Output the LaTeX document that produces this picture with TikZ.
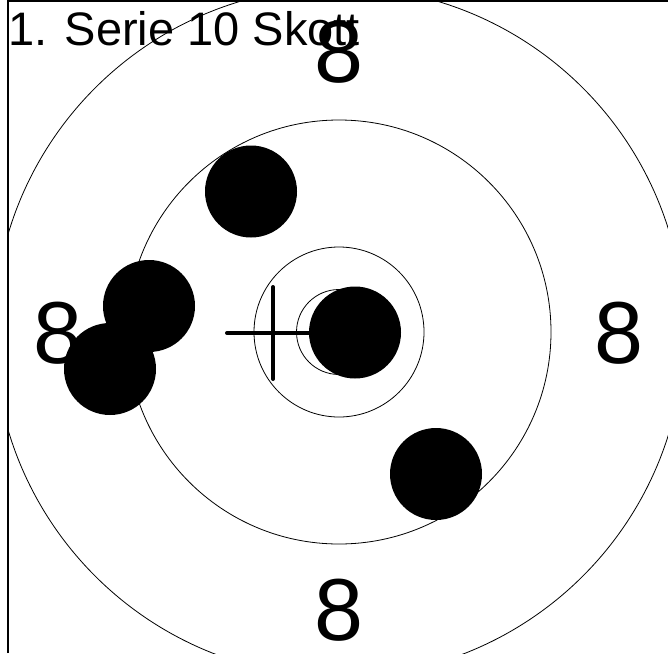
\documentclass[tikz,border=0pt]{standalone}
\usepackage{fontspec}
\setmainfont{Liberation Sans}
\begin{document}
\begin{tikzpicture}[x=1pt,y=-1pt,
 ring/.style={draw=black,line width=0.8pt},
 shot/.style={circle,fill=black,inner sep=0pt,minimum size=92pt},
 ringnum/.style={inner sep=0pt,font=\fontsize{88}{88}\selectfont},
 cross/.style={line width=4pt,line cap=round}]
 \useasboundingbox (0,0) rectangle (668,653);
 \begin{scope}
  \clip (7,1) rectangle (668,653);
  \coordinate (mid) at (339,332);
  \foreach \r in {42.5,85,212,345}
   \draw[ring] (mid) circle[radius=\r pt];
  % ring numbers
  \node[ringnum] (numtop) at (339,52) {8};
  \node[ringnum] (numbot) at (339,610) {8};
  \node[ringnum] (numleft) at (58,333) {8};
  \node[ringnum] (numright) at (619,333) {8};
  \node[anchor=base west,inner sep=0pt,font=\fontsize{47}{47}\selectfont] (title) at (8,45) {1. Serie 10 Skott};
  % mean point of impact
  \coordinate (mpi) at (273,333);
  \draw[cross] ([xshift=-46pt]mpi) -- ([xshift=46pt]mpi);
  \draw[cross] ([yshift=-46pt]mpi) -- ([yshift=46pt]mpi);
  % hits
  \node[shot] (hit1) at (251,191.5) {};
  \node[shot] (hit2) at (149,306) {};
  \node[shot] (hit3) at (110,369) {};
  \node[shot] (hit4) at (355,332.5) {};
  \node[shot] (hit5) at (436,474) {};
 \end{scope}
 \draw[line width=2pt] (7.5,653) -- (7.5,1) -- (668,1);
\end{tikzpicture}
\end{document}
